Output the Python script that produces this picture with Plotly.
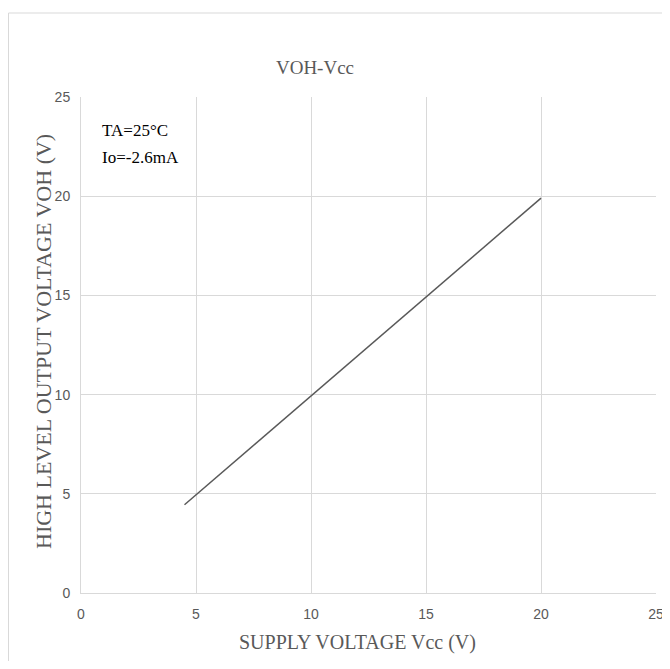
import plotly.graph_objects as go

vcc = [4.5, 5, 10, 15, 20]
voh = [4.45, 4.95, 9.95, 14.95, 19.9]
x_ticks = [0, 5, 10, 15, 20, 25]
y_ticks = [0, 5, 10, 15, 20, 25]
title_text = "VOH-Vcc"
x_title = "SUPPLY VOLTAGE Vcc (V)"
y_title = "HIGH LEVEL OUTPUT VOLTAGE VOH (V)"
notes = ["TA=25°C", "Io=-2.6mA"]

OFF = 8  # page body margin
W, H = 670 - OFF, 669 - 2 * OFF
L, R, T, B = 81 - OFF, 14, 97 - OFF, 68
pw, ph = W - L - R, H - T - B


def px(xp):  # page x -> paper
    return (xp - OFF - L) / pw


def py(yp):  # page y -> paper
    return (T + ph - (yp - OFF)) / ph


serif = "Liberation Serif, Times New Roman, serif"
narrow = "Liberation Sans Narrow, Arial Narrow, Liberation Sans, sans-serif"
grey = "#595959"

fig = go.Figure()
fig.add_trace(go.Scatter(x=vcc, y=voh, mode="lines",
                         line=dict(color=grey, width=1.5),
                         showlegend=False, hoverinfo="skip"))

fig.update_layout(
    width=W, height=H,
    margin=dict(l=L, r=R, t=T, b=B, autoexpand=False),
    paper_bgcolor="white", plot_bgcolor="white",
    title=dict(text=title_text, x=px(315), xref="paper", xanchor="center",
               y=(H - (67 - OFF)) / H, yanchor="middle",
               font=dict(family=serif, size=19, color=grey)),
    xaxis=dict(range=[0, 25], tickvals=x_ticks, showgrid=True, gridcolor="#d9d9d9",
               gridwidth=1, zeroline=False, showline=True, linecolor="#d9d9d9",
               ticks="", automargin=False, ticklabelstandoff=8,
               tickfont=dict(family=narrow, size=14, color=grey)),
    yaxis=dict(range=[0, 25], tickvals=y_ticks, showgrid=True, gridcolor="#d9d9d9",
               gridwidth=1, zeroline=False, showline=True, linecolor="#d9d9d9",
               ticks="", automargin=False, ticklabelstandoff=7,
               tickfont=dict(family=narrow, size=14, color=grey)),
)

# axis titles
fig.add_annotation(text=x_title, xref="paper", yref="paper", x=px(357), y=py(642),
                   xanchor="center", yanchor="middle", showarrow=False,
                   font=dict(family=serif, size=20, color=grey))
fig.add_annotation(text=y_title, xref="paper", yref="paper", x=px(43), y=py(342),
                   xanchor="center", yanchor="middle", showarrow=False, textangle=-90,
                   font=dict(family=serif, size=22, color=grey))

for i, t in enumerate(notes):
    fig.add_annotation(text=t, xref="paper", yref="paper",
                       x=px(100), y=py(130 + 28 * i),
                       xanchor="left", yanchor="middle", showarrow=False,
                       font=dict(family=serif, size=17, color="black"))

fig.add_shape(type="rect", xref="paper", yref="paper",
              x0=px(OFF + 0.5), x1=px(720), y0=py(720), y1=py(13),
              line=dict(color="#d9d9d9", width=1), fillcolor="rgba(0,0,0,0)", layer="below")

fig.write_html("out.html")
